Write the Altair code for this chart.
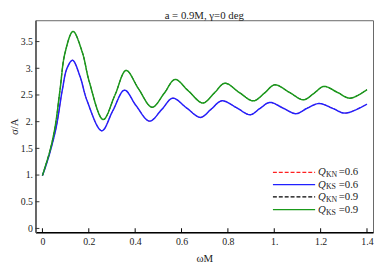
import altair as alt
import pandas as pd

# Q_KS = 0.6 (blue); Q_KN = 0.6 coincides with it
x_06 = [0.0, 0.013, 0.034, 0.06, 0.086, 0.106, 0.13, 0.162, 0.192, 0.256, 0.303, 0.354,
        0.404, 0.462, 0.515, 0.562, 0.621, 0.682, 0.727, 0.774, 0.838, 0.896, 0.939,
        0.981, 1.04, 1.094, 1.141, 1.193, 1.252, 1.306, 1.4]
y_06 = [0.99, 1.15, 1.45, 1.91, 2.6, 3.0, 3.15, 2.85, 2.4, 1.83, 2.2, 2.59,
        2.3, 2.01, 2.23, 2.44, 2.26, 2.08, 2.23, 2.39, 2.26, 2.13, 2.25,
        2.36, 2.25, 2.15, 2.25, 2.34, 2.25, 2.16, 2.33]

# Q_KS = 0.9 (green); Q_KN = 0.9 coincides with it
x_09 = [0.0, 0.013, 0.034, 0.055, 0.076, 0.097, 0.132, 0.172, 0.202, 0.262, 0.313, 0.361,
        0.414, 0.473, 0.525, 0.572, 0.631, 0.692, 0.742, 0.787, 0.848, 0.91, 0.959,
        1.002, 1.065, 1.126, 1.171, 1.214, 1.272, 1.327, 1.4]
y_09 = [0.99, 1.17, 1.48, 1.91, 2.6, 3.28, 3.69, 3.3, 2.75, 2.04, 2.5, 2.96,
        2.62, 2.27, 2.53, 2.79, 2.57, 2.35, 2.54, 2.72, 2.55, 2.39, 2.54,
        2.69, 2.55, 2.41, 2.53, 2.66, 2.55, 2.44, 2.6]

series_names = ["QKN=0.6", "QKS=0.6", "QKN=0.9", "QKS=0.9"]
series_colors = ["#ff2020", "#2020ff", "#000000", "#1a9a1a"]
series_dash = [[4, 2], [1, 0], [4, 2], [1, 0]]
series_width = [1.0, 1.5, 1.0, 1.5]
legend_sub = ["KN", "KS", "KN", "KS"]
legend_val = ["=0.6", "=0.6", "=0.9", "=0.9"]

x_ticks = [0, 0.2, 0.4, 0.6, 0.8, 1.0, 1.2, 1.4]
x_tick_labels = ["0", "0.2", "0.4", "0.6", "0.8", "1.", "1.2", "1.4"]
y_ticks = [0, 0.5, 1.0, 1.5, 2.0, 2.5, 3.0, 3.5]
y_tick_labels = ["0", "0.5", "1.", "1.5", "2.", "2.5", "3.", "3.5"]

W, H = 344, 216
FONT = "Liberation Serif"

rows = []
xs_list = [x_06, x_06, x_09, x_09]
ys_list = [y_06, y_06, y_09, y_09]
for i, name in enumerate(series_names):
    for j, (xv, yv) in enumerate(zip(xs_list[i], ys_list[i])):
        rows.append({"x": xv, "y": yv, "s": name, "o": j})
df = pd.DataFrame(rows)

xscale = alt.Scale(domain=[-0.03, 1.426], nice=False, zero=False)
yscale = alt.Scale(domain=[-0.07, 3.9], nice=False, zero=False)

def lbl_expr(vals, labels):
    parts = " : ".join(
        f"abs(datum.value - {v}) < 1e-6 ? '{l}'" for v, l in zip(vals, labels)
    )
    return parts + " : ''"

xaxis = alt.Axis(values=x_ticks, labelExpr=lbl_expr(x_ticks, x_tick_labels),
                 title="ωM", ticks=False, domainColor="#000000",
                 domainWidth=1.5, labelPadding=5, titlePadding=6)
yaxis = alt.Axis(values=y_ticks, labelExpr=lbl_expr(y_ticks, y_tick_labels),
                 title="σ/A", ticks=False, domainColor="#666666",
                 domainWidth=2, labelPadding=3, titlePadding=1)

layers = []
for i, name in enumerate(series_names):
    layers.append(
        alt.Chart(df[df.s == name]).mark_line(
            interpolate="catmull-rom", color=series_colors[i], strokeWidth=series_width[i],
            strokeDash=series_dash[i]
        ).encode(x=alt.X("x:Q", scale=xscale, axis=xaxis, title="ωM"),
                 y=alt.Y("y:Q", scale=yscale, axis=yaxis, title="σ/A"),
                 order="o:Q")
    )
# draw solid lines above dashed
layers = [layers[0], layers[2], layers[1], layers[3]]

xt = pd.DataFrame({"x": x_ticks})
yt = pd.DataFrame({"y": y_ticks})
xtick_layer = alt.Chart(xt).mark_rule(color="#000000", strokeWidth=1).encode(
    x=alt.X("x:Q", scale=xscale, axis=xaxis, title="ωM"), y=alt.value(H), y2=alt.value(H - 4))
ytick_layer = alt.Chart(yt).mark_rule(color="#333333", strokeWidth=1).encode(
    y=alt.Y("y:Q", scale=yscale, axis=yaxis, title="σ/A"), x=alt.value(0), x2=alt.value(4))

# legend (hand-built, pixel rows inside the plot area)
leg_rows = [155, 167.5, 180, 193]
leg_layers = []
for i in range(4):
    ly = leg_rows[i]
    leg_layers.append(alt.Chart(pd.DataFrame({"k": [i]})).mark_rule(
        color=series_colors[i], strokeWidth=1.4, strokeDash=series_dash[i]).encode(
        y=alt.value(ly), x=alt.value(242), x2=alt.value(285)))
    leg_layers.append(alt.Chart(pd.DataFrame({"t": ["Q"]})).mark_text(
        font=FONT, fontSize=11, fontStyle="italic", align="left", baseline="middle",
        color="#222222").encode(y=alt.value(ly), x=alt.value(288), text="t:N"))
    leg_layers.append(alt.Chart(pd.DataFrame({"t": [legend_sub[i]]})).mark_text(
        font=FONT, fontSize=8, align="left", baseline="middle", color="#222222").encode(
        y=alt.value(ly + 3), x=alt.value(296), text="t:N"))
    leg_layers.append(alt.Chart(pd.DataFrame({"t": [legend_val[i]]})).mark_text(
        font=FONT, fontSize=11, align="left", baseline="middle", color="#222222").encode(
        y=alt.value(ly), x=alt.value(309), text="t:N"))

chart = alt.layer(*layers, xtick_layer, ytick_layer, *leg_layers).properties(
    width=W, height=H,
    padding={"left": 0, "top": 0, "right": 0, "bottom": 0},
    title=alt.TitleParams("a = 0.9M, γ=0 deg", font=FONT, fontSize=11,
                          fontWeight="normal", offset=-1, color="#222222"),
).configure_view(stroke="#666666", strokeWidth=1).configure_axis(
    labelFont=FONT, labelFontSize=10, labelColor="#222222",
    titleFont=FONT, titleFontSize=11, titleFontWeight="normal", titleColor="#222222",
    grid=False,
)

chart.save("out.html", embed_options={"renderer": "svg", "actions": False})
